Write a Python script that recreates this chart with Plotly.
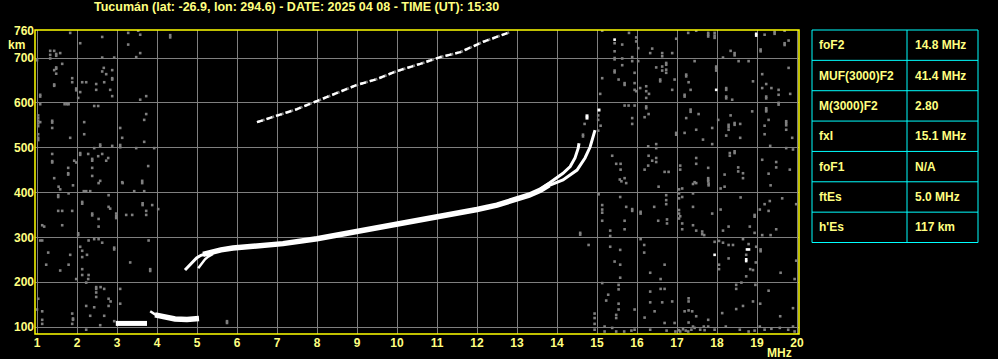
import plotly.graph_objects as go

# ---------------- data ----------------
title_text = "Tucumán (lat: -26.9, lon: 294.6) - DATE: 2025 04 08 - TIME (UT): 15:30"
x_ticks = list(range(1, 21))
y_ticks = [100, 200, 300, 400, 500, 600, 700]
y_top_tick = [760]

table_labels = ["foF2", "MUF(3000)F2", "M(3000)F2", "fxI", "foF1", "ftEs", "h'Es"]
table_values = ["14.8 MHz", "41.4 MHz", "2.80", "15.1 MHz", "N/A", "5.0 MHz", "117 km"]

# F-layer ordinary trace (lower thin start)
fo_start_freq = [4.70, 4.78, 4.87, 4.99, 5.10, 5.25]
fo_start_km = [227, 235, 243, 254, 260, 264]
# F-layer extraordinary start strand
fx_start_freq = [5.03, 5.12, 5.20, 5.28, 5.40]
fx_start_km = [231, 242, 251, 257, 263]
# main thick F band
f_main_freq = [5.15, 5.40, 5.60, 5.90, 6.50, 7.15, 8.00, 8.75, 9.50, 10.00, 10.50, 11.00,
               11.50, 12.00, 12.50, 13.00, 13.30, 13.58, 13.80]
f_main_km = [262, 268, 272, 276, 280, 286, 297, 309, 320, 329, 337, 345,
             354, 362, 372, 385, 394, 405, 417]
# o-branch near critical frequency
fo_top_freq = [13.60, 13.90, 14.15, 14.33, 14.45, 14.53, 14.55]
fo_top_km = [408, 428, 443, 458, 477, 499, 510]
# x-branch near critical frequency
fx_top_freq = [13.70, 14.15, 14.50, 14.70, 14.83, 14.90, 14.95]
fx_top_km = [412, 428, 450, 477, 502, 524, 539]
# isolated echoes at top of traces
f_tip_freq = [14.75, 14.75, 15.05]
f_tip_km = [566, 571, 584]

# second hop F trace
f2hop_freq = [6.50, 6.75, 7.50, 8.00, 8.50, 9.00, 9.50, 10.00, 10.58, 11.08, 11.58, 12.15, 12.83]
f2hop_km = [557, 564, 586, 604, 622, 640, 653, 671, 687, 702, 713, 736, 758]

# sporadic E traces
es1_freq = [2.97, 3.20, 3.45, 3.75]
es1_km = [108, 108, 109, 108]
es2_thin_freq = [3.83, 3.90, 3.97]
es2_thin_km = [135, 130, 127]
es2_freq = [3.95, 4.10, 4.25, 4.45, 4.75, 5.05]
es2_km = [127, 124, 121, 118, 117, 119]

# noise (gray)
noise_left = [
    (1.83, 756), (2.63, 747), (3.28, 756), (3.53, 761), (3.58, 752), (4.33, 751), (4.33, 746),
    (2.08, 733), (3.28, 730), (1.33, 716), (1.43, 716), (1.48, 709), (1.48, 705), (1.58, 711),
    (1.33, 707), (1.33, 699), (2.63, 701), (2.93, 701), (3.48, 702), (3.58, 711), (1.0, 695),
    (1.63, 687), (1.48, 679), (1.48, 676), (1.43, 673), (1.48, 665), (2.67, 678), (2.88, 673),
    (2.63, 670), (2.73, 664), (2.88, 655), (2.88, 652), (1.88, 655), (1.88, 646), (2.13, 646),
    (2.23, 646), (2.48, 642), (2.68, 646), (1.43, 641), (1.43, 638), (1.98, 632), (1.98, 628),
    (2.08, 624), (2.48, 629), (2.83, 629), (1.08, 618), (1.08, 614), (2.03, 611), (2.88, 615),
    (3.58, 607), (3.73, 615), (1.08, 597), (1.69, 597), (1.75, 597), (1.79, 597), (2.43, 593),
    (2.53, 593), (1.03, 572), (1.03, 566), (1.03, 560), (1.03, 554), (1.03, 548), (1.08, 557),
    (1.38, 560), (1.38, 556), (1.38, 544), (2.18, 557), (3.73, 575), (3.68, 562), (3.08, 544),
    (2.18, 530), (1.03, 530), (1.03, 522), (1.03, 517), (1.83, 522), (3.13, 522), (3.68, 513),
    (2.58, 507), (2.58, 503), (2.88, 504), (3.08, 506), (3.08, 501), (2.43, 499), (3.48, 499),
    (3.93, 499), (1.38, 486), (2.08, 488), (2.08, 484), (2.28, 486), (2.63, 486), (1.38, 470),
    (1.38, 467), (1.93, 471), (1.98, 467), (2.38, 475), (2.38, 471), (2.53, 481), (2.78, 477),
    (2.73, 471), (1.78, 455), (1.78, 443), (1.78, 440), (2.38, 455), (2.38, 437), (3.78, 459),
    (1.43, 432), (2.58, 426), (3.13, 423), (3.63, 426),
    (1.54, 413), (1.58, 407), (1.90, 416), (2.54, 421), (3.14, 421), (3.63, 421), (1.53, 394),
    (1.53, 390), (1.79, 398), (2.17, 403), (2.23, 403), (2.33, 403), (2.79, 394), (3.43, 403),
    (3.68, 403), (2.13, 379), (2.13, 375), (3.64, 376), (3.64, 372), (3.88, 372), (1.53, 359),
    (1.63, 359), (1.88, 359), (2.38, 353), (2.38, 349), (2.54, 341), (2.79, 368), (2.83, 364),
    (2.98, 353), (2.98, 347), (2.98, 343), (3.23, 350), (3.38, 350), (3.73, 359), (3.73, 350),
    (4.03, 363), (1.13, 327), (1.18, 324), (1.63, 327), (2.03, 309), (2.03, 305), (2.54, 324),
    (1.08, 293), (1.13, 293), (2.29, 293), (2.43, 296), (2.54, 296), (2.63, 288), (2.93, 277),
    (2.93, 273), (3.79, 293), (2.08, 279), (2.13, 270), (1.28, 266), (2.25, 261), (1.83, 261),
    (2.13, 256), (1.23, 239), (1.58, 226), (1.79, 239), (3.33, 244), (3.83, 229), (3.83, 225),
    (2.13, 229), (2.13, 216), (2.29, 216), (2.28, 207), (1.98, 207), (2.23, 199), (2.48, 189),
    (2.48, 185), (2.48, 177), (2.59, 189), (2.68, 185), (3.08, 185), (2.48, 167), (2.79, 163),
    (2.79, 147), (2.84, 157), (3.08, 152), (1.03, 163), (2.23, 147), (2.43, 144), (1.0, 139),
    (1.13, 135), (2.33, 125), (2.68, 125), (1.88, 130), (1.90, 119), (1.90, 116), (1.88, 107),
    (1.13, 116), (1.13, 107), (2.58, 104), (2.23, 94), (2.93, 113), (5.75, 109), (5.75, 113),
]
noise_right = [
    (15.13, 761), (15.44, 733), (15.80, 756), (15.98, 746), (15.98, 737), (15.63, 730), (15.44, 715),
    (15.44, 700), (15.44, 697), (15.63, 699), (15.88, 702), (15.88, 693), (16.03, 722), (16.03, 693),
    (16.33, 711), (16.38, 721), (16.63, 711), (16.63, 704), (16.88, 711), (16.98, 743), (17.28, 756),
    (17.78, 756), (17.78, 752), (17.78, 748), (17.94, 756), (17.94, 750), (17.94, 745), (17.48, 761),
    (19.19, 752), (19.44, 758), (19.44, 754), (19.69, 761), (19.69, 733), (19.69, 729), (19.79, 739),
    (19.09, 719), (19.09, 715), (18.34, 716), (18.44, 711), (18.44, 706), (18.15, 701), (18.54, 693),
    (18.79, 693), (17.44, 693), (16.73, 689), (16.73, 685), (16.63, 681), (16.63, 672), (16.73, 674),
    (16.48, 679), (15.63, 684), (15.44, 672), (15.44, 668), (15.94, 667), (15.13, 655), (15.54, 652),
    (15.69, 644), (15.69, 640), (15.94, 644), (15.94, 629), (15.98, 626), (16.23, 637), (16.23, 626),
    (16.23, 611), (16.08, 633), (16.30, 620), (16.58, 652), (16.58, 648), (16.73, 667), (16.94, 652),
    (16.88, 629), (17.23, 663), (17.23, 659), (17.29, 646), (17.34, 629), (17.19, 618), (17.19, 614),
    (17.98, 681), (17.98, 677), (17.98, 672), (18.23, 633), (18.23, 629), (18.23, 614), (18.23, 610),
    (18.38, 607), (19.13, 664), (18.90, 648), (19.23, 642), (19.13, 633), (19.36, 633), (19.23, 614),
    (19.23, 610), (19.54, 629), (19.54, 618), (19.54, 600), (19.54, 596), (19.83, 620), (19.79, 678),
    (15.08, 620), (15.69, 594), (15.79, 594), (15.94, 594), (16.23, 592), (16.23, 588), (16.29, 575),
    (16.19, 568), (15.88, 566), (15.88, 553), (15.09, 549), (15.03, 572), (15.03, 562), (14.69, 553),
    (14.65, 529), (14.65, 525), (15.03, 538), (16.98, 533), (16.98, 529), (17.23, 566), (17.34, 585),
    (17.34, 580), (17.54, 575), (17.19, 533), (17.48, 540), (17.65, 518), (17.88, 544), (17.88, 508),
    (18.03, 562), (18.29, 551), (18.29, 546), (18.29, 540), (18.34, 572), (18.44, 555), (18.44, 551),
    (18.58, 553), (18.23, 527), (18.58, 522), (18.88, 581), (19.23, 588), (19.23, 584), (19.23, 581),
    (19.29, 562), (19.19, 549), (19.19, 530), (19.73, 559), (19.73, 555), (19.73, 540), (19.73, 550),
    (19.88, 522), (19.33, 504), (19.73, 499), (19.90, 496), (18.32, 488), (18.32, 482), (18.44, 492),
    (18.44, 488), (16.28, 503), (16.48, 508), (16.48, 499), (16.29, 482), (16.48, 477), (16.48, 468),
    (16.38, 471), (15.38, 482), (15.48, 464), (15.59, 464), (15.59, 451), (16.19, 451), (16.28, 460),
    (16.69, 446), (16.79, 446), (17.08, 460), (17.08, 451), (17.48, 477), (17.48, 464), (17.78, 455),
    (17.78, 432), (17.78, 428), (18.19, 440), (18.53, 456), (18.53, 447), (18.65, 443), (18.65, 432),
    (19.13, 473), (19.48, 468), (19.48, 456), (19.29, 442), (19.82, 451), (15.57, 429), (15.69, 432),
    (17.44, 423), (17.78, 425),
    (15.73, 421), (15.61, 425), (16.54, 413), (17.05, 407), (17.13, 409), (17.40, 419), (17.48, 421),
    (17.79, 420), (17.79, 416), (18.09, 409), (18.19, 413), (19.34, 416), (17.05, 398), (17.05, 387),
    (17.13, 390), (17.40, 398), (16.73, 394), (16.73, 383), (16.73, 374), (15.58, 390), (15.04, 396),
    (15.13, 372), (15.13, 362), (15.13, 355), (15.13, 337), (15.73, 368), (15.88, 363), (15.88, 359),
    (16.09, 357), (16.09, 353), (16.43, 368), (16.53, 337), (16.75, 340), (16.75, 331), (17.05, 361),
    (17.05, 353), (17.05, 342), (17.08, 347), (17.13, 331), (17.40, 368), (17.13, 318), (17.40, 327),
    (17.48, 315), (17.63, 313), (17.63, 307), (17.68, 305), (17.88, 353), (18.09, 362), (18.59, 389),
    (18.94, 350), (18.94, 346), (19.07, 362), (19.29, 359), (19.19, 374), (19.32, 381), (19.63, 387),
    (19.98, 374), (18.82, 324), (18.94, 310), (19.13, 305), (19.34, 305), (19.48, 318), (18.29, 324),
    (18.15, 315), (15.69, 337), (15.69, 318), (15.33, 315), (15.33, 303), (14.58, 310), (14.58, 306),
    (14.79, 283), (15.33, 279), (15.58, 272), (16.18, 283), (16.18, 266), (16.09, 296), (15.44, 246),
    (15.58, 239), (15.58, 210), (16.33, 221), (16.59, 207), (16.69, 239), (16.69, 185), (16.59, 185),
    (17.94, 290), (18.05, 292), (18.15, 288), (18.29, 283), (18.40, 283), (18.65, 296), (18.79, 285),
    (18.73, 261), (18.83, 229), (18.90, 227), (18.98, 279), (18.97, 244), (19.09, 273), (19.09, 269),
    (18.05, 239), (18.05, 229), (18.29, 253), (19.59, 221), (19.94, 207), (19.98, 248), (18.73, 213),
    (18.48, 194), (18.48, 185), (18.96, 194), (18.61, 199), (19.29, 181), (15.13, 198), (15.54, 194),
    (15.54, 184), (15.28, 172), (15.23, 159), (15.54, 152), (15.54, 139), (15.48, 127), (15.48, 120),
    (14.94, 130), (14.94, 120), (14.94, 107), (14.94, 94), (15.94, 139), (16.33, 179), (16.33, 155),
    (16.44, 135), (16.63, 155), (16.88, 157), (17.29, 164), (17.29, 157), (17.29, 137), (17.19, 135),
    (17.38, 135), (17.48, 124), (17.78, 116), (17.78, 101), (18.13, 131), (18.48, 140), (18.65, 147),
    (18.90, 157), (19.08, 152), (19.58, 124), (19.90, 142), (16.19, 121), (16.69, 109), (16.94, 109),
    (17.29, 110), (15.19, 101), (15.19, 90), (15.38, 98), (15.48, 90), (15.94, 94), (16.33, 94),
    (17.40, 101), (17.44, 98), (17.58, 94), (17.67, 101), (17.69, 93), (17.94, 94), (18.22, 101),
    (18.57, 94), (18.79, 90), (19.07, 101), (19.19, 94), (19.36, 96), (19.57, 98), (19.78, 94),
    (19.90, 101), (19.94, 90), (17.08, 90), (17.28, 90), (17.36, 94), (17.05, 93), (17.15, 95),
    (17.22, 92), (16.96, 90), (15.68, 90), (15.86, 92), (16.74, 92), (18.94, 92),
]
# noise (white)
noise_white = [(15.44, 741), (18.98, 754), (18.98, 750), (17.98, 629), (17.94, 261),
               (18.75, 273), (18.80, 273), (18.73, 251), (18.73, 247)]

# ---------------- figure ----------------
FONT = "Liberation Sans, Arial, sans-serif"
TXT = "#ffff80"
GRAY = "#7f7f7f"
X_RANGE = [0.95, 20.05]
Y_RANGE = [84.4, 762.5]

fig = go.Figure()


def add_markers(points, color, size=2.6):
    fig.add_trace(go.Scatter(
        x=[p[0] for p in points], y=[p[1] for p in points], mode="markers",
        marker=dict(symbol="square", size=size, color=color, line=dict(width=0)),
        hoverinfo="skip", showlegend=False))


def add_line(xs, ys, width, color="white", dash=None):
    fig.add_trace(go.Scatter(
        x=xs, y=ys, mode="lines", line=dict(color=color, width=width, dash=dash),
        hoverinfo="skip", showlegend=False))


add_markers(noise_left, GRAY)
add_markers(noise_right, GRAY)
add_markers(noise_white, "white")

# second-hop trace
add_line(f2hop_freq, f2hop_km, 2.6, GRAY, "3px,2px")
add_line(f2hop_freq, f2hop_km, 2.4, "white", "6px,4px")

# sporadic E
add_line(es1_freq, es1_km, 5)
add_line(es2_thin_freq, es2_thin_km, 2.5)
add_line(es2_freq, es2_km, 5.5)

# F traces
add_line(fo_start_freq, fo_start_km, 3)
add_line(fx_start_freq, fx_start_km, 2.5)
add_line(f_main_freq, f_main_km, 5.5)
add_line(fo_top_freq, fo_top_km, 3)
add_line(fx_top_freq, fx_top_km, 3)
add_markers(list(zip(f_tip_freq, f_tip_km)), "white", 3)

# layout geometry helpers (pixel -> paper)
L, R, T, B = 35, 199, 30, 25
W, H = 998, 359
PW, PH = W - L - R, H - T - B


def xp(px):
    return (px - L) / PW


def yp(py):
    return (H - B - py) / PH


shapes = [dict(type="rect", xref="paper", yref="paper", x0=0, x1=1, y0=0, y1=1,
               line=dict(color="#ffff00", width=1.5), layer="above")]

annotations = [
    dict(text=title_text, xref="paper", yref="paper", x=xp(92), y=yp(7.5),
         xanchor="left", yanchor="middle", showarrow=False,
         font=dict(family=FONT, size=12.5, color=TXT, weight="bold")),
    dict(text="km", xref="paper", yref="paper", x=xp(6), y=yp(45),
         xanchor="left", yanchor="middle", showarrow=False,
         font=dict(family=FONT, size=12, color=TXT, weight="bold")),
    dict(text="MHz", xref="paper", yref="paper", x=xp(765), y=yp(353),
         xanchor="left", yanchor="middle", showarrow=False,
         font=dict(family=FONT, size=12, color=TXT, weight="bold")),
]

# table
tx0, tx1, tcol, ty0, ty1 = 812, 978, 907, 30, 242.5
rh = (ty1 - ty0) / len(table_labels)
CYAN = "#00ffff"
shapes.append(dict(type="rect", xref="paper", yref="paper", x0=xp(tx0), x1=xp(tx1),
                   y0=yp(ty1), y1=yp(ty0), line=dict(color=CYAN, width=1)))
shapes.append(dict(type="line", xref="paper", yref="paper", x0=xp(tcol), x1=xp(tcol),
                   y0=yp(ty1), y1=yp(ty0), line=dict(color=CYAN, width=1)))
for i in range(1, len(table_labels)):
    yy = ty0 + i * rh
    shapes.append(dict(type="line", xref="paper", yref="paper", x0=xp(tx0), x1=xp(tx1),
                       y0=yp(yy), y1=yp(yy), line=dict(color=CYAN, width=1)))
for i, (lab, val) in enumerate(zip(table_labels, table_values)):
    yc = ty0 + (i + 0.5) * rh
    for txt, px in ((lab, 817), (val, 913)):
        annotations.append(dict(text=txt, xref="paper", yref="paper", x=xp(px), y=yp(yc),
                                xanchor="left", yanchor="middle", showarrow=False,
                                font=dict(family=FONT, size=12, color=TXT, weight="bold")))

tickfont = dict(family=FONT, size=12, color=TXT, weight="bold")
fig.update_layout(
    template="none",
    width=W, height=H, margin=dict(l=L, r=R, t=T, b=B, autoexpand=False),
    paper_bgcolor="black", plot_bgcolor="black",
    showlegend=False, shapes=shapes, annotations=annotations,
    xaxis=dict(range=X_RANGE, tickvals=x_ticks, ticktext=[str(v) for v in x_ticks],
               showgrid=True, gridcolor=GRAY, gridwidth=1, zeroline=False, showline=False,
               ticks="", tickfont=tickfont, automargin=False, fixedrange=True),
    yaxis=dict(range=Y_RANGE, tickvals=y_ticks, ticktext=[str(v) for v in y_ticks],
               showgrid=True, gridcolor=GRAY, gridwidth=1, zeroline=False, showline=False,
               ticks="", tickfont=tickfont, automargin=False, fixedrange=True),
    yaxis2=dict(range=Y_RANGE, overlaying="y", side="left", tickvals=y_top_tick,
                ticktext=[str(v) for v in y_top_tick], showgrid=False, zeroline=False,
                showline=False, ticks="", tickfont=tickfont, automargin=False,
                fixedrange=True),
)
# invisible trace to activate yaxis2
fig.add_trace(go.Scatter(x=[None], y=[None], yaxis="y2", showlegend=False, hoverinfo="skip"))

fig.write_html("out.html")
